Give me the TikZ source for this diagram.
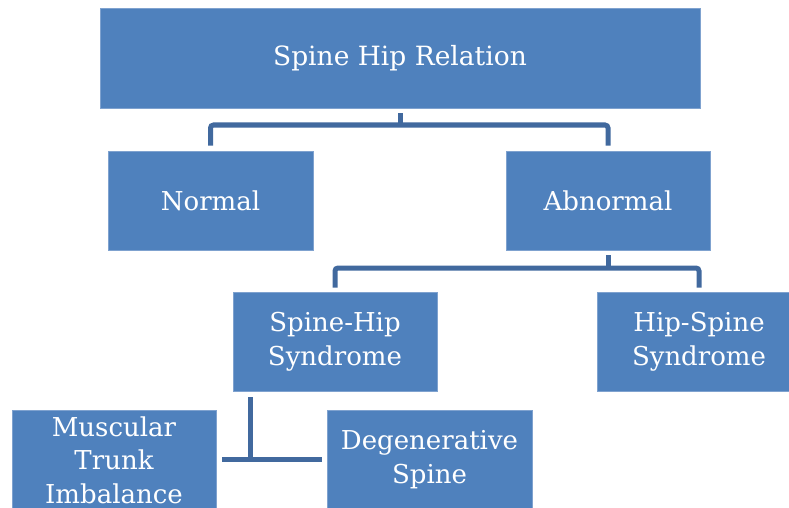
\documentclass[tikz,border=0pt]{standalone}
\usepackage{fontspec}
\setmainfont{DejaVu Serif}
\definecolor{boxblue}{HTML}{4F81BD}
\definecolor{boxedge}{HTML}{7FA2CF}
\definecolor{linkblue}{HTML}{41699E}
\begin{document}
\begin{tikzpicture}[x=1pt,y=-1pt,
  box/.style={rectangle,fill=boxblue,draw=boxedge,line width=0.8pt,text=white,
    align=center,inner sep=0pt,font=\fontsize{26}{33.5}\selectfont},
  link/.style={draw=linkblue,line width=5pt,rounded corners=3pt}]
\useasboundingbox (0,0) rectangle (789,508);
\begin{scope}
\clip (0,0) rectangle (789,508);
\node[box,minimum width=600pt,minimum height=100pt,font=\fontsize{26.5}{34}\selectfont] (top) at (400,58) {Spine Hip Relation};
\node[box,minimum width=205pt,minimum height=99pt] (normal) at (210.5,200.5) {Normal};
\node[box,minimum width=204pt,minimum height=99pt] (abnormal) at (608,200.5) {Abnormal};
\node[box,minimum width=204pt,minimum height=99pt] (sh) at (335,341.5) {Spine-Hip\\Syndrome};
\node[box,minimum width=204pt,minimum height=99pt] (hs) at (699,341.5) {Hip-Spine\\Syndrome};
\node[box,minimum width=204pt,minimum height=100pt] (mti) at (114,460) {Muscular\\Trunk\\Imbalance};
\node[box,minimum width=205pt,minimum height=99pt] (ds) at (429.5,459.5) {Degenerative\\Spine};
\end{scope}
\coordinate (j1) at (400,125);
\coordinate (j2) at (608,268);
\coordinate (j3) at (250,459);
\coordinate (j3l) at (222,459);
\coordinate (j3r) at (322,459);
\draw[link] ([yshift=-5pt]top.south) -- (j1);
\draw[link] ([yshift=5pt]normal.north) |- (j1) -| ([yshift=5pt]abnormal.north);
\draw[link] ([yshift=-5pt]abnormal.south) -- (j2);
\draw[link] ([yshift=4pt]sh.north) |- (j2) -| ([yshift=4pt]hs.north);
\draw[link] (250,397) -- (j3);
\draw[link] (j3l) -- (j3r);
\end{tikzpicture}
\end{document}
